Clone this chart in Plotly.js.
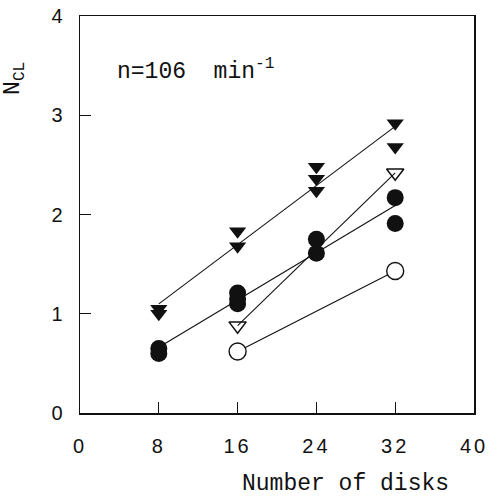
<!DOCTYPE html>
<html>
<head>
<meta charset="utf-8">
<script src="https://cdn.plot.ly/plotly-3.0.1.min.js"></script>
<style>
  html, body { margin: 0; padding: 0; background: #fff; }
  #chart { width: 488px; height: 499px; }
  .xtick text { letter-spacing: 3px; }
</style>
</head>
<body>
<div id="chart"></div>
<script>
// ---- data ----
const xTickVals = [0, 8, 16, 24, 32, 40];
const yTickVals = [0, 1, 2, 3, 4];

const disksTriFilled = [8, 8, 16, 16, 24, 24, 24, 32, 32];
const nclTriFilled   = [1.05, 1.00, 1.83, 1.68, 2.48, 2.36, 2.24, 2.92, 2.68];

const disksCircFilled = [8, 8, 16, 16, 16, 24, 24, 32, 32];
const nclCircFilled   = [0.65, 0.60, 1.21, 1.15, 1.10, 1.75, 1.61, 2.17, 1.91];

const disksTriOpen = [16, 32];
const nclTriOpen   = [0.88, 2.42];

const disksCircOpen = [16, 32];
const nclCircOpen   = [0.62, 1.43];

const annotationText = 'n=106\u00a0\u00a0min<sup>-1</sup>';
const xTitle = 'Number of disks';
const yTitle = 'N<sub>CL</sub>';

// ---- least-squares fit line over the data's x span ----
function fitLine(xs, ys) {
  const n = xs.length;
  const mx = xs.reduce((a, b) => a + b, 0) / n;
  const my = ys.reduce((a, b) => a + b, 0) / n;
  let sxy = 0, sxx = 0;
  for (let i = 0; i < n; i++) {
    sxy += (xs[i] - mx) * (ys[i] - my);
    sxx += (xs[i] - mx) * (xs[i] - mx);
  }
  const b = sxy / sxx, a = my - b * mx;
  const x0 = Math.min(...xs), x1 = Math.max(...xs);
  return { x: [x0, x1], y: [a + b * x0, a + b * x1] };
}

const ink = '#111';
const lineStyle = { color: ink, width: 1.1 };

function lineTrace(xs, ys) {
  const f = fitLine(xs, ys);
  return { x: f.x, y: f.y, mode: 'lines', line: lineStyle, hoverinfo: 'skip', showlegend: false };
}

const traces = [
  lineTrace(disksTriFilled, nclTriFilled),
  lineTrace(disksCircFilled, nclCircFilled),
  lineTrace(disksTriOpen, nclTriOpen),
  lineTrace(disksCircOpen, nclCircOpen),
  { x: disksTriOpen, y: nclTriOpen, mode: 'markers', showlegend: false,
    marker: { symbol: 'triangle-down-open', size: 15, color: ink, line: { width: 1.5, color: ink } } },
  { x: disksCircOpen, y: nclCircOpen, mode: 'markers', showlegend: false,
    marker: { symbol: 'circle', size: 17, color: '#fff', line: { width: 1.4, color: ink } } },
  { x: disksTriFilled, y: nclTriFilled, mode: 'markers', showlegend: false,
    marker: { symbol: 'triangle-down', size: 15, color: ink, line: { width: 0 } } },
  { x: disksCircFilled, y: nclCircFilled, mode: 'markers', showlegend: false,
    marker: { symbol: 'circle', size: 17, color: ink, line: { width: 0 } } }
];

const tickFont = { family: 'Liberation Sans, Arial, sans-serif', size: 20, color: ink };
const monoFont = { family: 'Liberation Mono, Courier New, monospace', size: 23, color: ink };

const layout = {
  width: 488,
  height: 499,
  margin: { l: 80, r: 14, t: 16, b: 86 },
  paper_bgcolor: '#fff',
  plot_bgcolor: '#fff',
  showlegend: false,
  xaxis: {
    range: [0, 40],
    tickvals: xTickVals,
    ticktext: xTickVals.map(String),
    ticks: 'inside',
    ticklen: 11,
    tickwidth: 1.2,
    tickcolor: ink,
    ticklabelstandoff: 14,
    ticklabeloverflow: 'allow',
    showline: true,
    linecolor: ink,
    linewidth: 1.5,
    mirror: true,
    showgrid: false,
    zeroline: false,
    tickfont: tickFont
  },
  yaxis: {
    range: [0, 4],
    tickvals: yTickVals,
    ticktext: yTickVals.map(String),
    ticks: 'inside',
    ticklen: 11,
    tickwidth: 1.2,
    tickcolor: ink,
    ticklabelstandoff: 12,
    ticklabeloverflow: 'allow',
    showline: true,
    linecolor: ink,
    linewidth: 1.5,
    mirror: true,
    showgrid: false,
    zeroline: false,
    tickfont: tickFont
  },
  annotations: [
    { text: annotationText, xref: 'paper', yref: 'paper', x: 0.089, y: 0.864,
      xanchor: 'left', yanchor: 'middle', showarrow: false, font: monoFont },
    { text: xTitle, xref: 'paper', yref: 'paper', x: 0.6726, y: -0.179,
      xanchor: 'center', yanchor: 'middle', showarrow: false, font: monoFont },
    { text: yTitle, xref: 'paper', yref: 'paper', x: -0.165, y: 0.844,
      xanchor: 'center', yanchor: 'middle', textangle: -90, showarrow: false, font: monoFont }
  ]
};

Plotly.newPlot('chart', traces, layout, { displayModeBar: false, staticPlot: true });
</script>
</body>
</html>
